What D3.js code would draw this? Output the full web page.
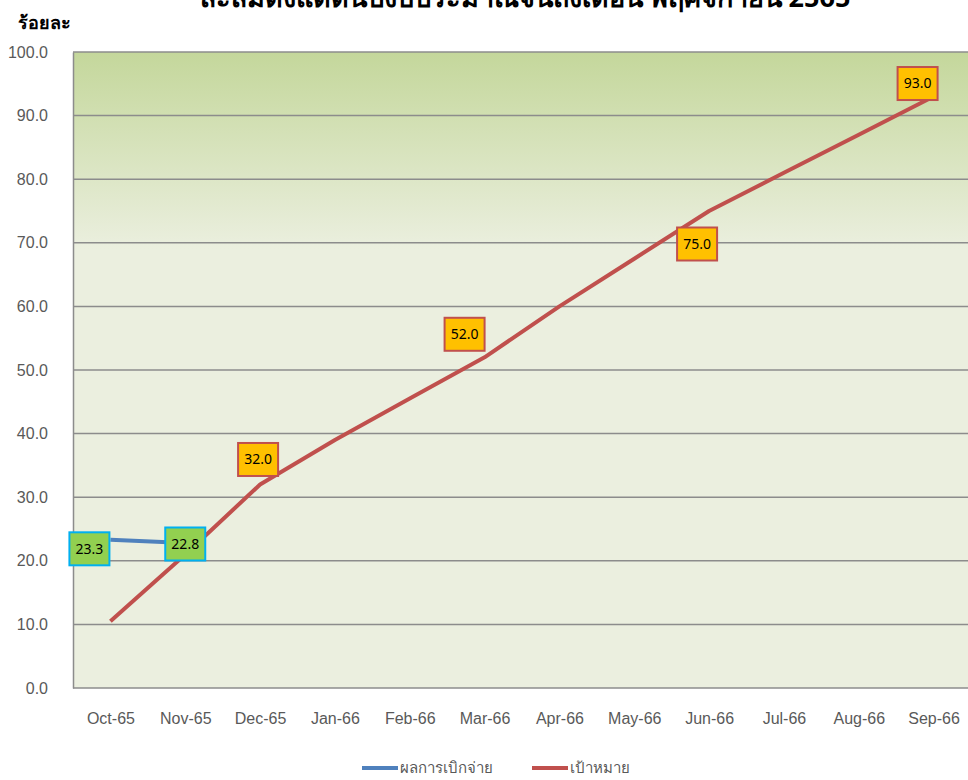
<!DOCTYPE html>
<html lang="th">
  <head>
    <meta charset="UTF-8" />
    <title>line</title>
    <script src="https://cdn.jsdelivr.net/npm/d3@7/dist/d3.min.js"></script>
    <style>
      body { margin: 0; background: #fff; }
      svg { display: block; font-family: Tahoma, "Noto Sans", "DejaVu Sans", sans-serif; }
    </style>
  </head>
  <body>
    <div id="wrapper"></div>
    <script>
      const months = ["Oct-65", "Nov-65", "Dec-65", "Jan-66", "Feb-66", "Mar-66",
        "Apr-66", "May-66", "Jun-66", "Jul-66", "Aug-66", "Sep-66"];
      const actual = [23.3, 22.8];
      const target = [10.5, 21, 32, 39, 45.5, 52, 60, 67.5, 75, 81, 87, 93];
      const targetLabelMonths = ["Dec-65", "Mar-66", "Jun-66", "Sep-66"];
      const yTicks = [0, 10, 20, 30, 40, 50, 60, 70, 80, 90, 100];
      const seriesNames = ["ผลการเบิกจ่าย", "เป้าหมาย"];
      const title = "สะสมตั้งแต่ต้นปีงบประมาณจนถึงเดือน พฤศจิกายน 2565";
      const yTitle = "ร้อยละ";

      const dimensions = {
        width: 968,
        height: 780,
        margin: { top: 52, right: -3, bottom: 92, left: 73 },
      };
      dimensions.boundedWidth = dimensions.width - dimensions.margin.left - dimensions.margin.right;
      dimensions.boundedHeight = dimensions.height - dimensions.margin.top - dimensions.margin.bottom;

      const svg = d3.select("#wrapper").append("svg")
        .attr("width", dimensions.width)
        .attr("height", dimensions.height);

      const defs = svg.append("defs");
      const grad = defs.append("linearGradient")
        .attr("id", "bg").attr("x1", 0).attr("x2", 0).attr("y1", 0).attr("y2", 1);
      grad.append("stop").attr("offset", "0%").attr("stop-color", "#c4d79b");
      grad.append("stop").attr("offset", "31%").attr("stop-color", "#ebefdf");
      grad.append("stop").attr("offset", "100%").attr("stop-color", "#ebefdf");

      const bounds = svg.append("g")
        .attr("transform", `translate(${dimensions.margin.left},${dimensions.margin.top})`);

      const xScale = d3.scalePoint()
        .domain(months)
        .range([0, dimensions.boundedWidth])
        .padding(0.5);
      const yScale = d3.scaleLinear()
        .domain([0, 100])
        .range([dimensions.boundedHeight, 0]);

      bounds.append("rect")
        .attr("width", dimensions.boundedWidth)
        .attr("height", dimensions.boundedHeight)
        .attr("fill", "url(#bg)");

      // grid lines
      bounds.append("g").selectAll("line")
        .data(yTicks)
        .join("line")
        .attr("x1", 0).attr("x2", dimensions.boundedWidth)
        .attr("y1", d => yScale(d)).attr("y2", d => yScale(d))
        .attr("stroke", "#8c8c8c").attr("stroke-width", 1.5);

      const yAxis = bounds.append("g")
        .call(d3.axisLeft(yScale).tickValues(yTicks).tickFormat(d3.format(".1f")).tickSize(0).tickPadding(25));
      yAxis.select(".domain").attr("stroke", "#8c8c8c").attr("stroke-width", 1.5);
      yAxis.selectAll("text").attr("font-size", 16).attr("fill", "#595959");

      const xAxis = bounds.append("g")
        .attr("transform", `translate(0,${dimensions.boundedHeight})`)
        .call(d3.axisBottom(xScale).tickSize(0).tickPadding(25));
      xAxis.select(".domain").remove();
      xAxis.selectAll("text").attr("font-size", 16).attr("fill", "#595959");

      const line = d3.line()
        .x((d, i) => xScale(months[i]))
        .y(d => yScale(d));

      bounds.append("path")
        .attr("d", line(target))
        .attr("fill", "none")
        .attr("stroke", "#c0504d")
        .attr("stroke-width", 4)
        .attr("stroke-linejoin", "round");

      bounds.append("path")
        .attr("d", line(actual))
        .attr("fill", "none")
        .attr("stroke", "#4f81bd")
        .attr("stroke-width", 4);

      // label offsets relative to the data point (box centre)
      const targetOffsets = [[-2, -25], [-20, -23], [-12, 33], [-16, -13]];
      const actualOffsets = [[-21, 9], [0, 1]];

      function drawLabel(x, y, text, fill, stroke) {
        const g = bounds.append("g").attr("transform", `translate(${x},${y})`);
        g.append("rect")
          .attr("x", -20).attr("y", -16.5)
          .attr("width", 40).attr("height", 33)
          .attr("fill", fill).attr("stroke", stroke).attr("stroke-width", 2);
        g.append("text")
          .attr("text-anchor", "middle").attr("dy", "0.35em")
          .attr("font-size", 14).attr("fill", "#000")
          .text(text);
      }

      targetLabelMonths.forEach((m, k) => {
        const i = months.indexOf(m);
        drawLabel(xScale(m) + targetOffsets[k][0], yScale(target[i]) + targetOffsets[k][1],
          d3.format(".1f")(target[i]), "#ffc000", "#c0504d");
      });
      actual.forEach((v, i) => {
        drawLabel(xScale(months[i]) + actualOffsets[i][0], yScale(v) + actualOffsets[i][1],
          d3.format(".1f")(v), "#92d050", "#00b0f0");
      });

      // titles
      svg.append("text")
        .attr("x", 525).attr("y", 7)
        .attr("text-anchor", "middle")
        .attr("font-size", 27).attr("font-weight", "bold").attr("fill", "#000")
        .text(title);
      svg.append("text")
        .attr("x", 18).attr("y", 29)
        .attr("font-size", 18).attr("font-weight", "bold").attr("fill", "#000")
        .text(yTitle);

      // legend
      const legend = svg.append("g").attr("transform", "translate(362,768)");
      const legendColors = ["#4f81bd", "#c0504d"];
      const legendX = [0, 170];
      seriesNames.forEach((name, i) => {
        const g = legend.append("g").attr("transform", `translate(${legendX[i]},0)`);
        g.append("line").attr("x1", 0).attr("x2", 36)
          .attr("stroke", legendColors[i]).attr("stroke-width", 4);
        g.append("text").attr("x", 38).attr("dy", "0.35em")
          .attr("font-size", 15).attr("fill", "#595959").text(name);
      });
    </script>
  </body>
</html>
